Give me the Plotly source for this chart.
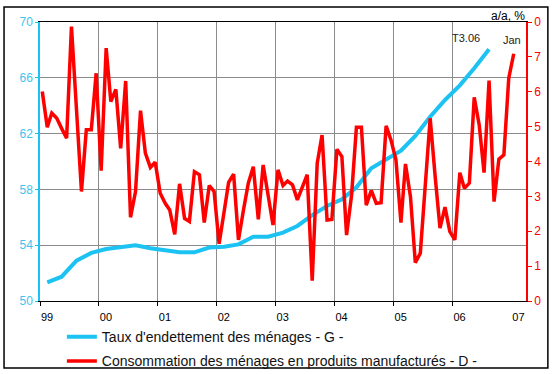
import plotly.graph_objects as go
import pandas as pd

# ---------------- data ----------------
# monthly: Jan 1999 .. Jan 2007  (right axis, a/a %)
red_months = pd.date_range("1999-01-01", "2007-01-01", freq="MS")
red_values = [
    6.01, 4.98, 5.39, 5.24, 4.95, 4.67, 7.87, 5.40, 3.14, 4.91, 4.91, 6.53,
    3.74, 7.25, 5.72, 6.07, 4.38, 6.31, 2.40, 3.14, 5.46, 4.24, 3.83, 3.98,
    3.09, 2.80, 2.61, 1.91, 3.36, 2.37, 2.28, 3.71, 3.62, 2.25, 3.31, 3.14,
    1.64, 2.56, 3.40, 3.64, 1.75, 2.61, 3.38, 3.85, 2.34, 3.90, 3.09, 2.18,
    3.76, 3.31, 3.44, 3.33, 2.90, 3.28, 3.62, 0.58, 3.95, 4.76, 2.32, 2.34,
    4.35, 4.14, 1.89, 3.04, 4.98, 4.98, 2.75, 3.17, 2.80, 2.82, 5.02, 4.62,
    4.05, 2.25, 3.93, 2.99, 1.10, 1.37, 3.23, 5.24, 3.57, 2.09, 2.69, 1.99,
    1.75, 3.68, 3.23, 3.38, 5.84, 5.05, 3.68, 6.32, 2.85, 4.07, 4.19, 6.39,
    7.09,
]

# quarterly: T1.99 .. T3.06 (left axis)
blue_quarters = [(y, q) for y in range(1999, 2007) for q in range(1, 5)][:31]
blue_values = [
    51.34, 51.74, 52.89, 53.45, 53.73, 53.87, 53.99, 53.78, 53.61, 53.49,
    53.49, 53.83, 53.89, 54.06, 54.61, 54.61, 54.90, 55.38, 56.16, 56.81,
    57.29, 58.15, 59.51, 60.11, 60.77, 61.83, 63.21, 64.41, 65.46, 66.68,
    68.04,
]

year_labels = ["99", "00", "01", "02", "03", "04", "05", "06", "07"]
left_ticks = [50, 54, 58, 62, 66, 70]
right_ticks = [0, 1, 2, 3, 4, 5, 6, 7, 8]
right_ticktext = ["0", "1", "2", "3", "4", "5", "6", "7", "0"]

series_names = [
    "Taux d'endettement des ménages - G -",
    "Consommation des ménages en produits manufacturés - D -",
]

# ---------------- positions ----------------
red_x = [d + pd.Timedelta(days=14) for d in red_months]
blue_x = [pd.Timestamp(y, 3 * q - 1, 15) for (y, q) in blue_quarters]
year_dates = [pd.Timestamp(1999 + i, 1, 1) for i in range(len(year_labels))]
x_range = [pd.Timestamp(1999, 1, 1), pd.Timestamp(2007, 4, 1)]

BLUE = "#1CC3F2"
BLUE_TXT = "#3EC4EE"
RED = "#FF0000"
GRID = "#8C8C8C"
FONT = "Liberation Sans, Arial, sans-serif"

fig = go.Figure()
fig.add_trace(go.Scatter(
    x=blue_x, y=blue_values, mode="lines", name=series_names[0],
    line=dict(color=BLUE, width=4), xaxis="x", yaxis="y", legendgroup="g",
))
fig.add_trace(go.Scatter(
    x=red_x, y=red_values, mode="lines", name=series_names[1],
    line=dict(color=RED, width=3.5), xaxis="x2", yaxis="y2", legendgroup="d",
))

fig.update_layout(
    width=555, height=374,
    margin=dict(l=40, r=29, t=22, b=73, autoexpand=False),
    paper_bgcolor="white", plot_bgcolor="white",
    font=dict(family=FONT, size=11, color="black"),
    showlegend=True,
    legend=dict(
        x=0.045, y=-0.072, xanchor="left", yanchor="top",
        orientation="v", font=dict(size=14, color="#111"),
        bgcolor="rgba(0,0,0,0)", tracegroupgap=3,
    ),
    xaxis=dict(
        type="date", range=x_range,
        tickmode="array", tickvals=year_dates, ticktext=year_labels,
        ticks="", showgrid=False, zeroline=False,
        showline=True, linecolor="black", linewidth=1, mirror=True,
        ticklabelshift=7, ticklabelstandoff=6,
        tickfont=dict(size=11, color="black"),
    ),
    xaxis2=dict(
        type="date", range=x_range, overlaying="x", anchor="y2", side="bottom",
        tickmode="array", tickvals=year_dates[:-1],
        showticklabels=False, ticks="outside", ticklen=4, tickcolor="black",
        showgrid=True, gridcolor=GRID, gridwidth=1, showline=False, zeroline=False,
    ),
    yaxis=dict(
        range=[50, 70], tickmode="array", tickvals=left_ticks,
        showgrid=True, gridcolor=GRID, gridwidth=1, zeroline=False,
        showline=True, linecolor=BLUE, linewidth=1.5,
        ticks="outside", ticklen=3, tickcolor=BLUE,
        tickfont=dict(size=12, color=BLUE_TXT),
    ),
    yaxis2=dict(
        range=[0, 8], overlaying="y", side="right", anchor="x2",
        tickmode="array", tickvals=right_ticks, ticktext=right_ticktext,
        showgrid=False, zeroline=False,
        showline=True, linecolor=RED, linewidth=1.5,
        ticks="outside", ticklen=4, tickcolor=RED,
        tickfont=dict(size=12, color=RED),
    ),
    shapes=[dict(
        type="rect", xref="paper", yref="paper",
        x0=-0.074, x1=1.045, y0=-0.240, y1=1.054,
        line=dict(color="black", width=1.5), fillcolor="rgba(0,0,0,0)",
        layer="above",
    )],
    annotations=[
        dict(text="a/a, %", xref="paper", yref="paper", x=1.002, y=1.022,
             xanchor="right", yanchor="middle", showarrow=False,
             font=dict(size=12, color="black")),
        dict(text="T3.06", xref="x", yref="y", x=blue_x[-1], y=blue_values[-1],
             xanchor="right", yanchor="bottom", xshift=-7, yshift=3,
             showarrow=False, font=dict(size=11, color="#222")),
        dict(text="Jan", xref="x2", yref="y2", x=red_x[-1], y=red_values[-1],
             xanchor="center", yanchor="bottom", xshift=-2, yshift=6,
             showarrow=False, font=dict(size=11, color="#222")),
    ],
)

fig.write_html(
    "out.html",
    config={"displayModeBar": False},
    post_script="document.body.style.margin='0';document.body.style.padding='0';",
)
